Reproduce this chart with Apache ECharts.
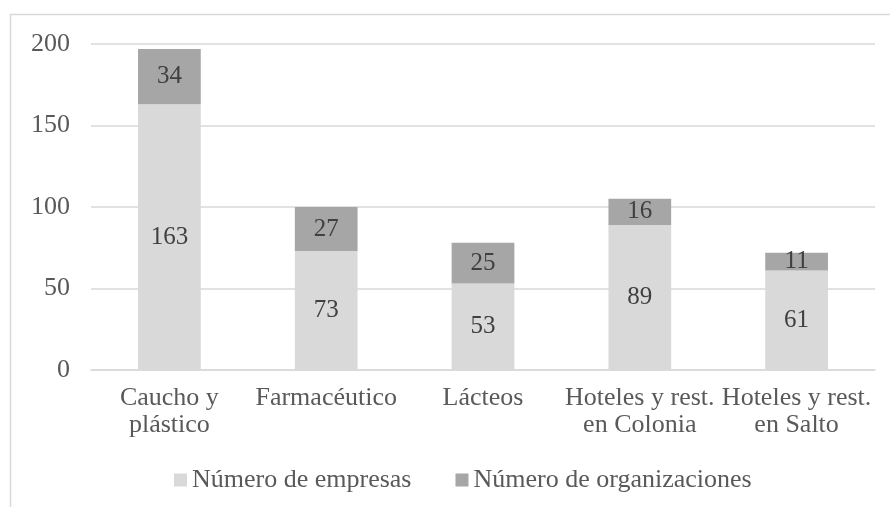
<!DOCTYPE html>
<html>
<head>
<meta charset="utf-8">
<script src="https://cdn.jsdelivr.net/npm/echarts@6/dist/echarts.min.js"></script>
<style>
html,body{margin:0;padding:0;background:#fff;}
#chart{width:890px;height:507px;}
</style>
</head>
<body>
<div id="chart"></div>
<script>
var categories = ['Caucho y\nplástico', 'Farmacéutico', 'Lácteos', 'Hoteles y rest.\nen Colonia', 'Hoteles y rest.\nen Salto'];
var empresas = [163, 73, 53, 89, 61];
var organizaciones = [34, 27, 25, 16, 11];
var seriesNames = ['Número de empresas', 'Número de organizaciones'];
var yTicks = [0, 50, 100, 150, 200];

var FONT = "Georgia, 'Liberation Serif', serif";
var chart = echarts.init(document.getElementById('chart'), null, {renderer: 'canvas'});
chart.setOption({
  animation: false,
  backgroundColor: '#ffffff',
  graphic: [{
    type: 'rect',
    shape: {x: 10.5, y: 14.5, width: 1000, height: 1000},
    style: {fill: 'none', stroke: '#d9d9d9', lineWidth: 1.5},
    silent: true,
    z: -10
  }],
  grid: {left: 91, right: 15, top: 44, bottom: 137, containLabel: false},
  legend: {
    left: 169,
    top: 462,
    itemWidth: 13,
    itemHeight: 13,
    itemGap: 44,
    icon: 'rect',
    textStyle: {fontFamily: FONT, fontSize: 26, color: '#595959'},
    data: seriesNames
  },
  xAxis: {
    type: 'category',
    data: categories,
    axisLine: {show: true, lineStyle: {color: '#d9d9d9', width: 1.5}},
    axisTick: {show: false},
    axisLabel: {
      interval: 0,
      margin: 15,
      fontFamily: FONT,
      fontSize: 26,
      lineHeight: 27,
      color: '#595959'
    }
  },
  yAxis: {
    type: 'value',
    min: yTicks[0],
    max: yTicks[yTicks.length - 1],
    interval: 50,
    axisLine: {show: false},
    axisTick: {show: false},
    splitLine: {lineStyle: {color: '#d9d9d9', width: 1.5}},
    axisLabel: {margin: 21, fontFamily: FONT, fontSize: 26, color: '#595959'}
  },
  series: [{
    name: seriesNames[0],
    type: 'bar',
    stack: 'total',
    barWidth: '40%',
    data: empresas,
    itemStyle: {color: '#d9d9d9'},
    label: {show: true, position: 'inside', fontFamily: FONT, fontSize: 25, color: '#404040'}
  }, {
    name: seriesNames[1],
    type: 'bar',
    stack: 'total',
    barWidth: '40%',
    data: organizaciones,
    itemStyle: {color: '#a6a6a6'},
    label: {show: true, position: 'inside', fontFamily: FONT, fontSize: 25, color: '#404040'}
  }]
});
</script>
</body>
</html>
